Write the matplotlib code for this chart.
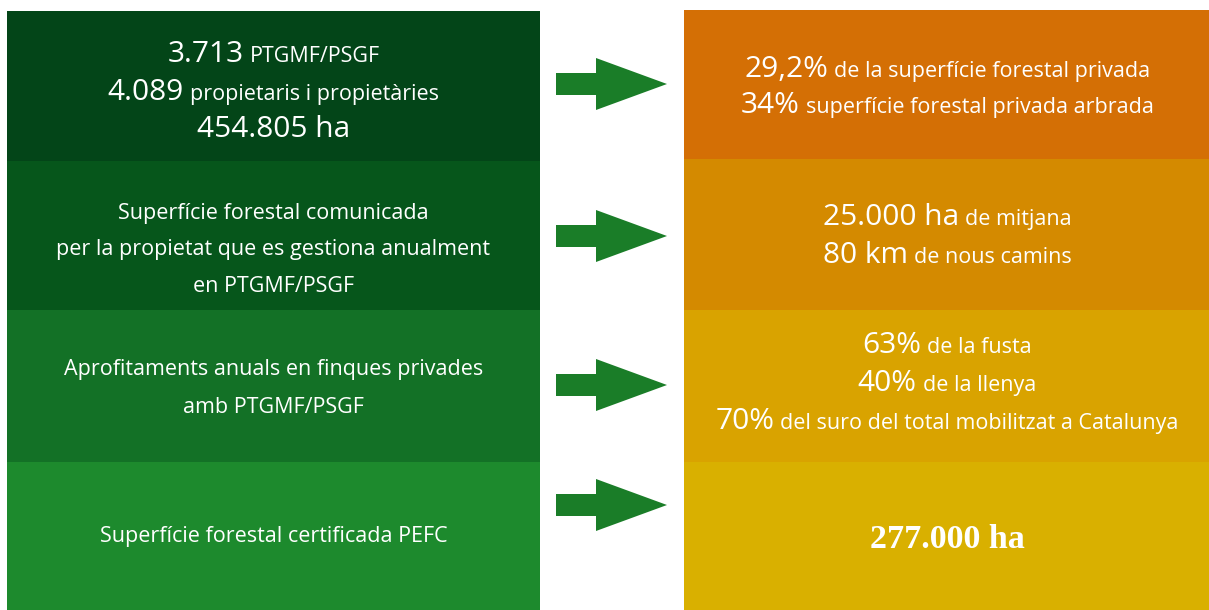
import matplotlib
matplotlib.use("Agg")
import matplotlib.pyplot as plt
from matplotlib.patches import Rectangle, Polygon

# ---- data ----
left_colors = ["#034518", "#06561b", "#137126", "#1d8a2d"]
right_colors = ["#d46f05", "#d48a00", "#d9a300", "#d9b000"]
arrow_color = "#1a7d28"

# each line: list of (text, kind) with kind 'big' or 'small'
left_lines = [
    [[("3.713", "big"), ("PTGMF/PSGF", "small")],
     [("4.089", "big"), ("propietaris i propietàries", "small")],
     [("454.805 ha", "big")]],
    [[("Superfície forestal comunicada", "body")],
     [("per la propietat que es gestiona anualment", "body")],
     [("en PTGMF/PSGF", "body")]],
    [[("Aprofitaments anuals en finques privades", "body")],
     [("amb PTGMF/PSGF", "body")]],
    [[("Superfície forestal certificada PEFC", "body")]],
]
left_baselines = [[62, 100, 137], [219, 255, 292], [375, 413], [542]]

right_lines = [
    [[("29,2%", "big"), ("de la superfície forestal privada", "small")],
     [("34%", "big"), ("superfície forestal privada arbrada", "small")]],
    [[("25.000 ha", "big"), ("de mitjana", "small")],
     [("80 km", "big"), ("de nous camins", "small")]],
    [[("63%", "big"), ("de la fusta", "small")],
     [("40%", "big"), ("de la llenya", "small")],
     [("70%", "big"), ("del suro del total mobilitzat a Catalunya", "small")]],
    [[("277.000 ha", "serif")]],
]
right_baselines = [[77, 113], [225, 263], [353, 391, 429], [548]]

arrow_centers = [84, 236, 385, 505]

# ---- layout ----
W, H = 1209, 610
fig = plt.figure(figsize=(W / 100, H / 100), dpi=100)
ax = fig.add_axes([0, 0, 1, 1])
ax.set_xlim(0, W)
ax.set_ylim(H, 0)
ax.axis("off")

left_edges = [11, 161, 310, 462, 610]
right_edges = [10, 159, 310, 462, 610]
for i in range(4):
    ax.add_patch(Rectangle((7, left_edges[i]), 533, left_edges[i + 1] - left_edges[i],
                           facecolor=left_colors[i], edgecolor="none"))
    ax.add_patch(Rectangle((684, right_edges[i]), W - 684, right_edges[i + 1] - right_edges[i],
                           facecolor=right_colors[i], edgecolor="none"))
    cy = arrow_centers[i]
    pts = [(556, cy - 11), (596, cy - 11), (596, cy - 26), (667, cy),
           (596, cy + 26), (596, cy + 11), (556, cy + 11)]
    ax.add_patch(Polygon(pts, closed=True, facecolor=arrow_color, edgecolor="none"))

styles = {
    "big": dict(fontsize=21.5, family="Open Sans"),
    "small": dict(fontsize=15.5, family="Open Sans"),
    "body": dict(fontsize=15.5, family="Open Sans"),
    "serif": dict(fontsize=24.5, family="Liberation Serif", fontweight="bold"),
}

fig.canvas.draw()
renderer = fig.canvas.get_renderer()


def draw_line(cx, yb, parts):
    texts = []
    widths = []
    for t, kind in parts:
        tx = ax.text(0, yb, t, ha="left", va="baseline", color="white", **styles[kind])
        bb = tx.get_window_extent(renderer=renderer)
        texts.append(tx)
        widths.append(bb.width)
    gap = 6 if len(parts) > 1 else 0
    total = sum(widths) + gap * (len(parts) - 1)
    x = cx - total / 2
    for tx, w in zip(texts, widths):
        tx.set_x(x)
        x += w + gap


for i in range(4):
    for line, yb in zip(left_lines[i], left_baselines[i]):
        draw_line(273.5, yb, line)
    for line, yb in zip(right_lines[i], right_baselines[i]):
        draw_line(947, yb, line)

fig.savefig("out.png", dpi=100)
